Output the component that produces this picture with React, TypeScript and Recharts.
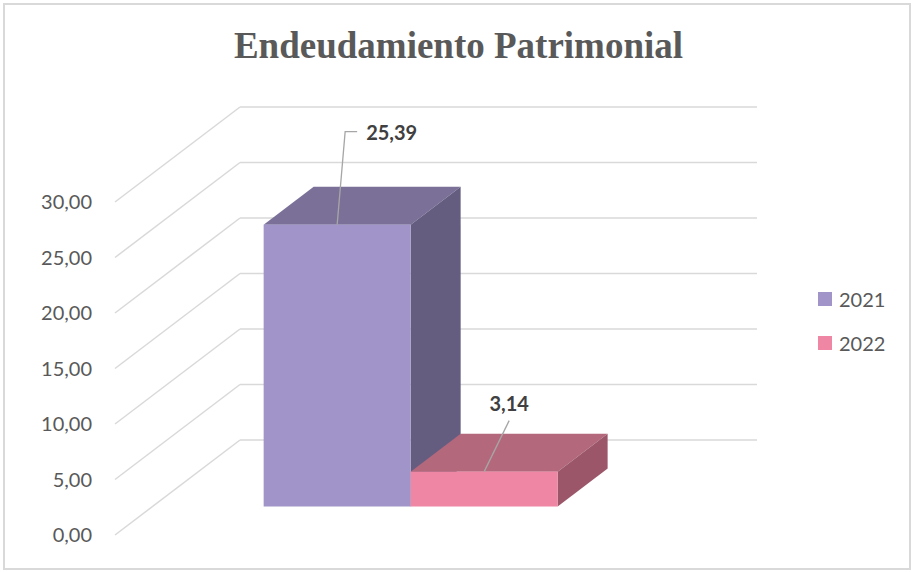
import React from 'react';
import {
  BarChart,
  Bar,
  XAxis,
  YAxis,
  CartesianGrid,
  Legend,
  LabelList,
} from 'recharts';

const categories = ['Endeudamiento Patrimonial'];
const values2021 = [25.39];
const values2022 = [3.14];
const yTicks = [0, 5, 10, 15, 20, 25, 30];

const data = categories.map((name, i) => ({
  name,
  y2021: values2021[i],
  y2022: values2022[i],
}));

// 3D depth: full floor depth, and where the bars sit in it
const DEPTH_X = 125;
const DEPTH_Y = -95;
const BAR_FRONT = 0.3;
const BAR_DEPTH = 0.4;

const FONT = 'Lato, "Open Sans", sans-serif';
const TEXT = '#595959';

const fmt = (v: number) => v.toFixed(2).replace('.', ',');

interface Face {
  front: string;
  top: string;
  side: string;
}

const makeBox = (c: Face) => (props: any) => {
  const { x, y, width, height } = props;
  if (height == null || width == null) return <g />;
  const fx = x + DEPTH_X * BAR_FRONT;
  const fy = y + DEPTH_Y * BAR_FRONT;
  const dx = DEPTH_X * BAR_DEPTH;
  const dy = DEPTH_Y * BAR_DEPTH;
  const top = `${fx},${fy} ${fx + width},${fy} ${fx + width + dx},${fy + dy} ${fx + dx},${fy + dy}`;
  const side = `${fx + width},${fy} ${fx + width + dx},${fy + dy} ${fx + width + dx},${fy + dy + height} ${fx + width},${fy + height}`;
  return (
    <g>
      <polygon points={top} fill={c.top} />
      <polygon points={side} fill={c.side} />
      <rect x={fx} y={fy} width={width} height={height} fill={c.front} />
    </g>
  );
};

const makeLabel = (lx: number, ly: number, hook: number) => (props: any) => {
  const { x, y, width, value } = props;
  const ax = x + DEPTH_X * BAR_FRONT + width / 2;
  const ay = y + DEPTH_Y * BAR_FRONT;
  const ex = ax + lx;
  const ey = ay + ly;
  return (
    <g>
      <polyline
        points={hook ? `${ax},${ay} ${ex},${ey} ${ex + hook},${ey}` : `${ax},${ay} ${ex},${ey}`}
        fill="none"
        stroke="#A6A6A6"
        strokeWidth={1.3}
      />
      {hook ? (
        <text x={ex + hook + 9} y={ey + 8} fill="#404040" fontFamily={FONT} fontWeight={700} fontSize={20}>
          {fmt(value)}
        </text>
      ) : (
        <text x={ex} y={ey - 10} textAnchor="middle" fill="#404040" fontFamily={FONT} fontWeight={700} fontSize={20}>
          {fmt(value)}
        </text>
      )}
    </g>
  );
};

const GridLine = (props: any) => {
  const { x1, y1, x2 } = props;
  const bx = x1 + DEPTH_X;
  const by = y1 + DEPTH_Y;
  return (
    <g>
      <line x1={x1} y1={y1} x2={bx} y2={by} stroke="#D9D9D9" strokeWidth={1.5} />
      <line x1={bx} y1={by} x2={x2 + DEPTH_X} y2={by} stroke="#D9D9D9" strokeWidth={1.5} />
    </g>
  );
};

const YTick = (props: any) => {
  const { x, y, payload } = props;
  return (
    <text x={x} y={y} dy={7} textAnchor="end" fill={TEXT} fontFamily={FONT} fontSize={20}>
      {fmt(payload.value)}
    </text>
  );
};

const LegendBox = (props: any) => {
  const { payload } = props;
  return (
    <div>
      {(payload || []).map((p: any) => (
        <div key={p.value} style={{ display: 'flex', alignItems: 'center', height: 44 }}>
          <div style={{ width: 14, height: 14, background: p.color, marginRight: 7 }} />
          <span style={{ fontFamily: FONT, fontSize: 20, color: TEXT }}>{p.value}</span>
        </div>
      ))}
    </div>
  );
};

export default function App() {
  return (
    <div style={{ position: 'absolute', left: 0, top: 0, width: 914, height: 572, background: '#fff' }}>
      <div
        style={{
          position: 'absolute',
          left: 3,
          top: 3,
          width: 908,
          height: 567,
          border: '2px solid #D9D9D9',
          boxSizing: 'border-box',
        }}
      />
      <div
        style={{
          position: 'absolute',
          left: 0,
          top: 24,
          width: 917,
          textAlign: 'center',
          fontFamily: '"Liberation Serif", "Times New Roman", serif',
          fontWeight: 700,
          fontSize: 37,
          color: TEXT,
          lineHeight: '44px',
        }}
      >
        Endeudamiento Patrimonial
      </div>
      <BarChart
        width={914}
        height={572}
        data={data}
        margin={{ top: 202, right: 282, bottom: 37, left: 0 }}
        barGap={0}
        barCategoryGap="21.5%"
      >
        <CartesianGrid vertical={false} horizontal={<GridLine />} />
        <XAxis dataKey="name" hide />
        <YAxis
          domain={[0, 30]}
          ticks={yTicks}
          width={115}
          axisLine={false}
          tickLine={false}
          tickSize={0}
          tickMargin={23}
          tick={<YTick />}
        />
        <Legend
          layout="vertical"
          align="center"
          verticalAlign="middle"
          wrapperStyle={{ left: 818, top: 277, width: 90 }}
          content={<LegendBox />}
        />
        <Bar
          dataKey="y2021"
          name="2021"
          fill="#A094C8"
          isAnimationActive={false}
          shape={makeBox({ front: '#A094C8', top: '#7B7098', side: '#655D80' })}
        >
          <LabelList dataKey="y2021" content={makeLabel(8, -93, 12)} />
        </Bar>
        <Bar
          dataKey="y2022"
          name="2022"
          fill="#EE86A4"
          isAnimationActive={false}
          shape={makeBox({ front: '#EE86A4', top: '#B4687C', side: '#9C5669' })}
        >
          <LabelList dataKey="y2022" content={makeLabel(25, -51, 0)} />
        </Bar>
      </BarChart>
    </div>
  );
}
